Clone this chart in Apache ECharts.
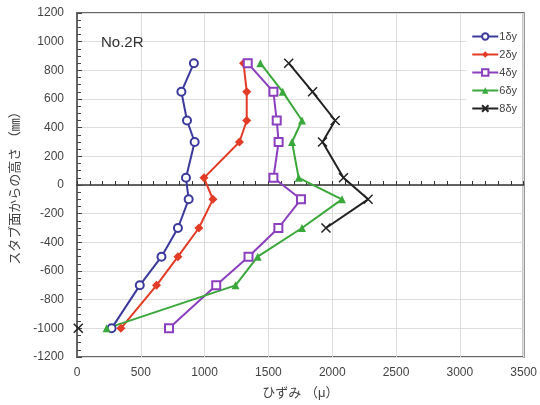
<!DOCTYPE html>
<html>
<head>
<meta charset="utf-8">
<script src="https://cdn.jsdelivr.net/npm/echarts@6/dist/echarts.min.js"></script>
<style>
  html, body { margin: 0; padding: 0; background: #fff; }
  #chart { width: 540px; height: 405px; }
</style>
</head>
<body>
<div id="chart"></div>
<script>
// 高さ (mm)
const heights = [850, 650, 450, 300, 50, -100, -300, -500, -700, -1000];
// ひずみ (μ)
const strain1 = [916, 818, 862, 922, 854, 875, 791, 662, 492, 271];
const strain2 = [1305, 1330, 1330, 1273, 995, 1065, 955, 791, 623, 344];
const strain4 = [1338, 1539, 1565, 1580, 1539, 1755, 1578, 1344, 1091, 721];
const strain6 = [1437, 1612, 1763, 1685, 1737, 2076, 1763, 1416, 1242, 232];
const strain8 = [1659, 1846, 2023, 1924, 2088, 2281, 1951, null, null, 10];
const seriesNames = ["1δy", "2δy", "4δy", "6δy", "8δy"];

const font = "Liberation Sans, Arial, Noto Sans CJK JP";

function pairs(xs) {
  return xs.map((x, i) => [x, heights[i]]);
}

const plain = (v) => String(v);

const chart = echarts.init(document.getElementById("chart"));

chart.setOption({
  backgroundColor: "#fff",
  animation: false,
  textStyle: { fontFamily: font },
  title: {
    text: "No.2R",
    left: 96,
    top: 30,
    textStyle: { fontSize: 15, fontWeight: "normal", color: "#333", fontFamily: font },
  },
  legend: {
    orient: "vertical",
    right: 18,
    top: 26,
    itemWidth: 26,
    itemHeight: 8,
    itemGap: 7,
    backgroundColor: "#fff",
    textStyle: { fontSize: 11, color: "#444", padding: [0, 0, 0, -4] },
    data: seriesNames,
  },
  grid: {
    left: 77,
    right: 15,
    top: 13,
    bottom: 47,
    show: true,
    borderColor: "#666",
    borderWidth: 2,
  },
  xAxis: [
    {
      type: "value",
      min: 0,
      max: 3500,
      interval: 500,
      position: "bottom",
      axisLine: { show: false, onZero: false },
      axisTick: { show: false },
      axisLabel: { fontSize: 12, color: "#444", margin: 10, formatter: plain },
      splitLine: { show: true, lineStyle: { color: "#ddd", width: 1 } },
      name: "ひずみ （μ）",
      nameLocation: "middle",
      nameGap: 30,
      nameTextStyle: { fontSize: 13, color: "#444" },
    },
    {
      type: "value",
      min: 0,
      max: 3500,
      interval: 500,
      position: "top",
      axisLine: { show: true, onZero: true, lineStyle: { color: "#333", width: 1.5 } },
      axisTick: { show: true, inside: false, length: 4, lineStyle: { color: "#333" } },
      minorTick: { show: true, splitNumber: 5, length: 4, lineStyle: { color: "#333" } },
      axisLabel: { show: false },
      splitLine: { show: false },
    },
  ],
  yAxis: {
    type: "value",
    min: -1200,
    max: 1200,
    interval: 200,
    axisLine: { show: true, lineStyle: { color: "#666", width: 2 } },
    axisTick: { show: true, inside: true, length: 5, lineStyle: { color: "#444" } },
    minorTick: { show: true, splitNumber: 4, length: 4, lineStyle: { color: "#444" } },
    axisLabel: { fontSize: 12, color: "#444", margin: 13, formatter: plain },
    splitLine: { show: true, lineStyle: { color: "#ddd", width: 1 } },
    name: "スタブ面からの高さ （㎜）",
    nameLocation: "middle",
    nameGap: 55,
    nameTextStyle: { fontSize: 13, color: "#444" },
  },
  series: [
    {
      name: seriesNames[0],
      type: "line",
      data: pairs(strain1),
      symbol: "emptyCircle",
      symbolSize: 8,
      color: "#3b3a9c",
      lineStyle: { width: 2 },
      itemStyle: { borderWidth: 1.5 },
    },
    {
      name: seriesNames[1],
      type: "line",
      data: pairs(strain2),
      symbol: "diamond",
      symbolSize: 9,
      color: "#e23b26",
      lineStyle: { width: 2 },
    },
    {
      name: seriesNames[2],
      type: "line",
      data: pairs(strain4),
      symbol: "emptyRect",
      symbolSize: 8,
      color: "#8b3fbe",
      lineStyle: { width: 2 },
      itemStyle: { borderWidth: 1.5 },
    },
    {
      name: seriesNames[3],
      type: "line",
      data: pairs(strain6),
      symbol: "triangle",
      symbolSize: 8,
      color: "#3aa83a",
      lineStyle: { width: 2 },
    },
    {
      name: seriesNames[4],
      type: "line",
      data: pairs(strain8),
      symbol: "path://M0,0L10,10M10,0L0,10",
      symbolSize: 9,
      color: "#222",
      connectNulls: false,
      lineStyle: { width: 2 },
      itemStyle: { borderColor: "#222", borderWidth: 1.5 },
    },
  ],
});
</script>
</body>
</html>
